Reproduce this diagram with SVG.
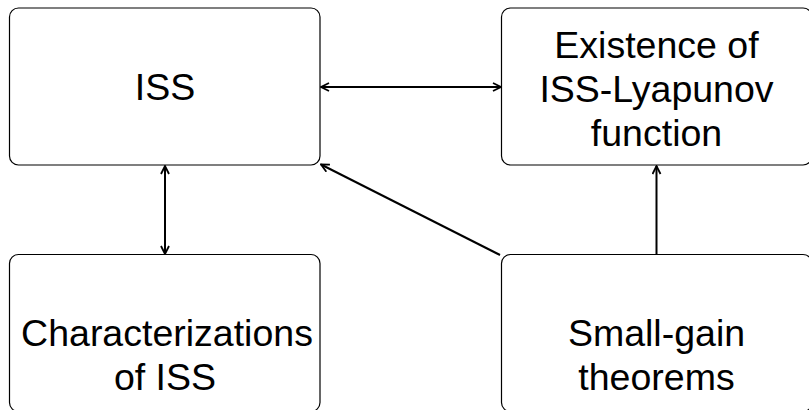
<svg xmlns="http://www.w3.org/2000/svg" width="809" height="410" viewBox="0 0 809 410">
<style>
.box{fill:#fff;stroke:#000;stroke-width:1.2}
.t{font-family:"Liberation Sans",Arial,Helvetica,sans-serif;font-size:37.5px;fill:#000;text-anchor:middle}
.c{stroke:#000;stroke-width:2;fill:none}
</style>
<defs>
<marker id="ah" viewBox="0 0 10 10" refX="9" refY="5" markerWidth="10" markerHeight="10" markerUnits="userSpaceOnUse" orient="auto-start-reverse">
<path d="M1,1 L9,5 L1,9" fill="none" stroke="#000" stroke-width="1.8"/>
</marker>
</defs>
<rect width="809" height="410" fill="#fff"/>
<g id="iss"><rect class="box" x="9.5" y="8" width="310.5" height="157" rx="9"/><text class="t" x="165" y="100">ISS</text></g>
<g id="lyap"><rect class="box" x="501.5" y="8" width="310.5" height="157" rx="9"/><text class="t" x="656.5" y="58">Existence of</text><text class="t" x="656.5" y="102">ISS-Lyapunov</text><text class="t" x="656.5" y="146">function</text></g>
<g id="char"><rect class="box" x="9.5" y="254.5" width="310.5" height="157" rx="9"/><text class="t" x="167" y="346">Characterizations</text><text class="t" x="165" y="390">of ISS</text></g>
<g id="sg"><rect class="box" x="501.5" y="254.5" width="310.5" height="157" rx="9"/><text class="t" x="656.5" y="346">Small-gain</text><text class="t" x="656.5" y="390">theorems</text></g>
<g id="connectors">
<line class="c" x1="321" y1="87" x2="501" y2="87" marker-start="url(#ah)" marker-end="url(#ah)"/>
<line class="c" x1="165" y1="166" x2="165" y2="254" marker-start="url(#ah)" marker-end="url(#ah)"/>
<line class="c" x1="656.5" y1="254" x2="656.5" y2="166" marker-end="url(#ah)"/>
<line class="c" x1="500" y1="255" x2="321" y2="164.5" marker-end="url(#ah)"/>
</g>
</svg>
